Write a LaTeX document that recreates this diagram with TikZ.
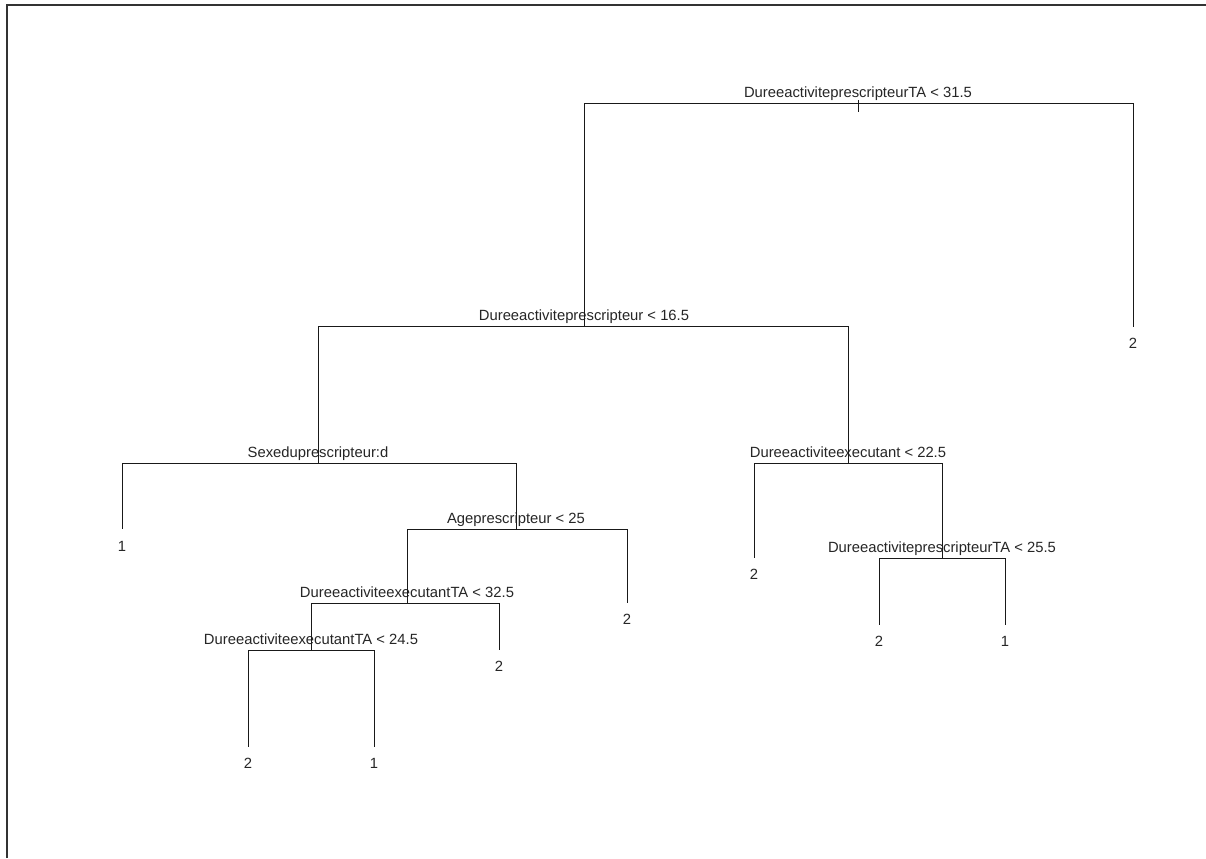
\documentclass[tikz,border=0pt]{standalone}
\usepackage{fontspec}
\setmainfont{Liberation Sans}
\begin{document}
\begin{tikzpicture}[x=0.5pt,y=-0.5pt,
  edge/.style={draw=black!90,line width=0.45pt},
  frame/.style={draw=black!80,line width=1pt},
  splitlab/.style={anchor=base,inner sep=0pt,font=\fontsize{7.4pt}{8pt}\selectfont,text=black!85},
  leaflab/.style={anchor=base,inner sep=0pt,font=\fontsize{7.4pt}{8pt}\selectfont,text=black!85}]
\useasboundingbox (0,0) rectangle (1206,858);
\fill[white] (0,0) rectangle (1206,858);
\draw[frame] (7,858) -- (7,5) -- (1206,5);
% split points
\coordinate (n1) at (858,103);
\coordinate (n1l) at (584,103);
\coordinate (n1r) at (1133,103);
\coordinate (n1a) at (858,100);
\coordinate (n1t) at (858,112);
\coordinate (n2) at (584,326);
\coordinate (n2l) at (318,326);
\coordinate (n2r) at (848,326);
\coordinate (n3) at (318,463);
\coordinate (n3l) at (122,463);
\coordinate (n3r) at (516,463);
\coordinate (n4) at (516,529);
\coordinate (n4l) at (407,529);
\coordinate (n4r) at (627,529);
\coordinate (n5) at (407,603);
\coordinate (n5l) at (311,603);
\coordinate (n5r) at (499,603);
\coordinate (n6) at (311,650);
\coordinate (n6l) at (248,650);
\coordinate (n6r) at (374,650);
\coordinate (n7) at (848,463);
\coordinate (n7l) at (754,463);
\coordinate (n7r) at (942,463);
\coordinate (n8) at (942,558);
\coordinate (n8l) at (879,558);
\coordinate (n8r) at (1005,558);
% leaf ends
\coordinate (e1) at (1133,327);
\coordinate (e2) at (122,529);
\coordinate (e3) at (627,603);
\coordinate (e4) at (499,650);
\coordinate (e5) at (248,747);
\coordinate (e6) at (374,747);
\coordinate (e7) at (754,558);
\coordinate (e8) at (879,625);
\coordinate (e9) at (1005,625);
% split labels
\node[splitlab] (t1) at (858,97) {DureeactiviteprescripteurTA < 31.5};
\node[splitlab] (t2) at (584,320) {Dureeactiviteprescripteur < 16.5};
\node[splitlab] (t3) at (318,457) {Sexeduprescripteur:d};
\node[splitlab] (t4) at (516,523) {Ageprescripteur < 25};
\node[splitlab] (t5) at (407,597) {DureeactiviteexecutantTA < 32.5};
\node[splitlab] (t6) at (311,644) {DureeactiviteexecutantTA < 24.5};
\node[splitlab] (t7) at (848,457) {Dureeactiviteexecutant < 22.5};
\node[splitlab] (t8) at (942,552) {DureeactiviteprescripteurTA < 25.5};
% leaf labels
\node[leaflab] (l1) at (1133,348) {2};
\node[leaflab] (l2) at (122,551) {1};
\node[leaflab] (l3) at (627,624) {2};
\node[leaflab] (l4) at (499,671) {2};
\node[leaflab] (l5) at (248,768) {2};
\node[leaflab] (l6) at (374,768) {1};
\node[leaflab] (l7) at (754,579) {2};
\node[leaflab] (l8) at (879,646) {2};
\node[leaflab] (l9) at (1005,646) {1};
% connectors
\draw[edge] (n1l) -- (n1r);
\draw[edge] (n1a) -- (n1t);
\draw[edge] (n1l) -- (n2);
\draw[edge] (n1r) -- (e1);
\draw[edge] (n2l) -- (n2r);
\draw[edge] (n2l) -- (n3);
\draw[edge] (n2r) -- (n7);
\draw[edge] (n3l) -- (n3r);
\draw[edge] (n3l) -- (e2);
\draw[edge] (n3r) -- (n4);
\draw[edge] (n4l) -- (n4r);
\draw[edge] (n4l) -- (n5);
\draw[edge] (n4r) -- (e3);
\draw[edge] (n5l) -- (n5r);
\draw[edge] (n5l) -- (n6);
\draw[edge] (n5r) -- (e4);
\draw[edge] (n6l) -- (n6r);
\draw[edge] (n6l) -- (e5);
\draw[edge] (n6r) -- (e6);
\draw[edge] (n7l) -- (n7r);
\draw[edge] (n7l) -- (e7);
\draw[edge] (n7r) -- (n8);
\draw[edge] (n8l) -- (n8r);
\draw[edge] (n8l) -- (e8);
\draw[edge] (n8r) -- (e9);
\end{tikzpicture}
\end{document}
